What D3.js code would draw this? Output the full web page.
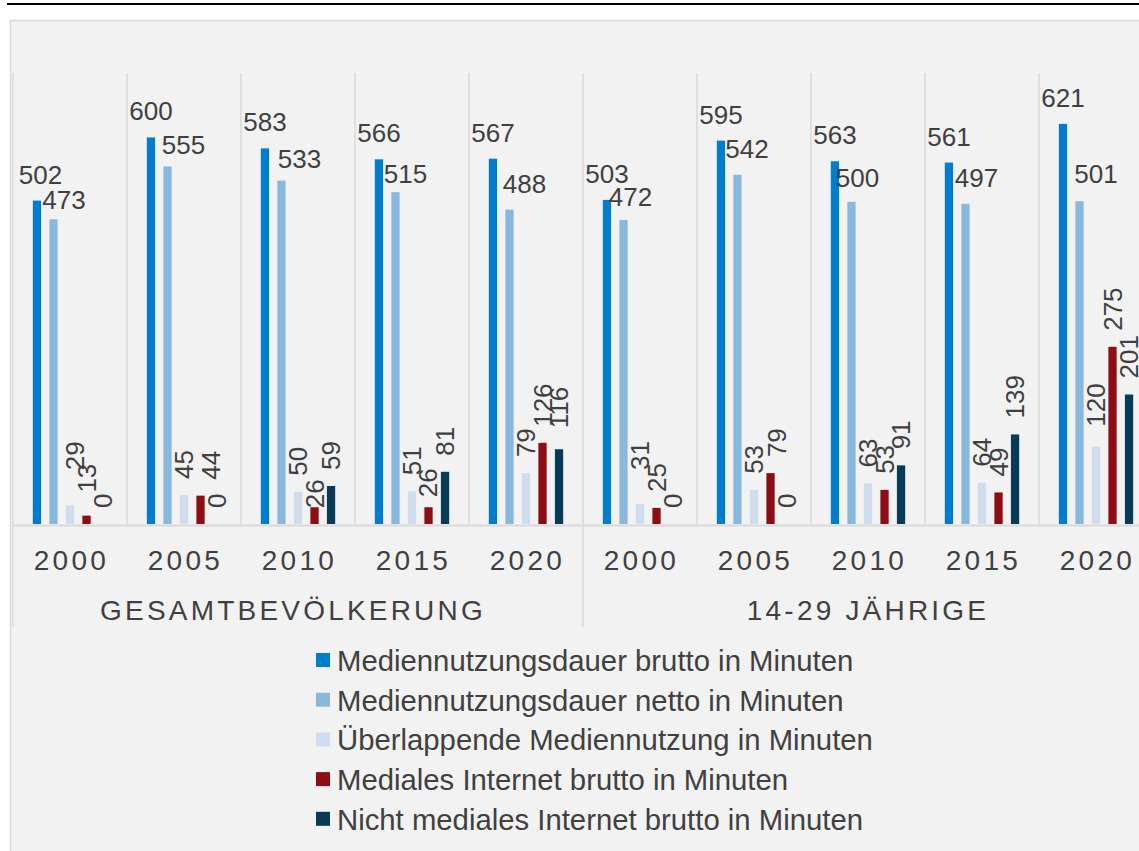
<!DOCTYPE html>
<html>
<head>
<meta charset="utf-8">
<script src="https://cdn.jsdelivr.net/npm/d3@7"></script>
<style>
  html, body { margin: 0; padding: 0; background: #ffffff; }
  svg { display: block; font-family: "Liberation Sans", Arial, sans-serif; }
</style>
</head>
<body>
<svg id="chart" width="1139" height="851"></svg>
<script>
// ---- data ----
const groups = ["GESAMTBEVÖLKERUNG", "14-29 JÄHRIGE"];
const years = ["2000", "2005", "2010", "2015", "2020"];
const seriesNames = [
  "Mediennutzungsdauer brutto in Minuten",
  "Mediennutzungsdauer netto in Minuten",
  "Überlappende Mediennutzung in Minuten",
  "Mediales Internet brutto in Minuten",
  "Nicht mediales Internet brutto in Minuten"
];
const bruttoGesamt      = [502, 600, 583, 566, 567];
const nettoGesamt       = [473, 555, 533, 515, 488];
const ueberlappGesamt   = [29, 45, 50, 51, 79];
const medialGesamt      = [13, 44, 26, 26, 126];
const nichtMedialGesamt = [0, 0, 59, 81, 116];
const bruttoJung        = [503, 595, 563, 561, 621];
const nettoJung         = [472, 542, 500, 497, 501];
const ueberlappJung     = [31, 53, 63, 64, 120];
const medialJung        = [25, 79, 53, 49, 275];
const nichtMedialJung   = [0, 0, 91, 139, 201];
const colors = ["#007DCC", "#88B9DC", "#CFDDEE", "#8C0D14", "#073B57"];

// ---- build table ----
const valuesByGroup = [
  [bruttoGesamt, nettoGesamt, ueberlappGesamt, medialGesamt, nichtMedialGesamt],
  [bruttoJung, nettoJung, ueberlappJung, medialJung, nichtMedialJung]
];
const categories = [];
groups.forEach((g, gi) => years.forEach((y, yi) => {
  categories.push({
    key: gi + "-" + y, group: gi, year: y,
    values: valuesByGroup[gi].map((arr, si) => ({ s: si, v: arr[yi] }))
  });
}));

// label nudges (layout only, not data): key "group-year-series" -> [dx, dy]
const nudges = {
  "0-2000-0": [3.5, 0], "0-2000-1": [10.5, 7], "0-2005-1": [16, 5], "0-2010-1": [18, 4],
  "0-2015-1": [10, 8], "0-2020-1": [15, 0], "1-2000-1": [7, 3], "1-2005-1": [9.5, 0],
  "1-2010-1": [6, 2], "1-2015-1": [11, 0], "1-2020-1": [16.5, -1],
  "0-2000-2": [5, -19], "0-2000-3": [0, -7], "0-2005-3": [10, 0], "0-2010-3": [0, 17],
  "0-2015-3": [-1, 6], "0-2020-4": [0, -5], "1-2000-2": [0, -18], "1-2005-3": [6, 0],
  "1-2020-2": [0, -4]
};
const groupLabelShift = [-5, 0];

// ---- layout ----
const svg = d3.select("#chart");
const textColor = "#404040";
const gridColor = "#D9D9D9";

svg.append("line").attr("x1", 7).attr("x2", 1139).attr("y1", 4).attr("y2", 4)
  .attr("stroke", "#000").attr("stroke-width", 2);
svg.append("rect").attr("x", 10.5).attr("y", 20.5).attr("width", 1140).attr("height", 840)
  .attr("fill", "#F2F2F2").attr("stroke", gridColor).attr("stroke-width", 1.5);

const x0 = d3.scaleBand().domain(categories.map(d => d.key)).range([13, 13 + 114 * 10]).padding(0);
const x1 = d3.scaleBand().domain(d3.range(5)).range([0, x0.bandwidth()])
  .paddingInner(0.5).paddingOuter(1.2);
const y = d3.scaleLinear().domain([0, 700]).range([524, 73]);

// vertical separators
const sepG = svg.append("g");
categories.forEach((c, i) => {
  const xs = x0(c.key);
  const yEnd = (i % 5 === 0) ? 627 : 524;
  sepG.append("line").attr("x1", xs).attr("x2", xs).attr("y1", y(700)).attr("y2", yEnd)
    .attr("stroke", gridColor).attr("stroke-width", 1.5);
});
// axis line
svg.append("line").attr("x1", 13).attr("x2", 1139).attr("y1", y(0) + 1.5).attr("y2", y(0) + 1.5)
  .attr("stroke", gridColor).attr("stroke-width", 2);

// bars
const catG = svg.selectAll("g.cat").data(categories).join("g")
  .attr("class", "cat").attr("transform", d => `translate(${x0(d.key)},0)`);
catG.selectAll("rect").data(d => d.values.filter(v => v.v > 0)).join("rect")
  .attr("x", d => x1(d.s)).attr("width", x1.bandwidth())
  .attr("y", d => y(d.v)).attr("height", d => y(0) - y(d.v))
  .attr("fill", d => colors[d.s]);

// labels
catG.each(function (c) {
  const g = d3.select(this);
  c.values.forEach(d => {
    const nk = nudges[c.group + "-" + c.year + "-" + d.s] || [0, 0];
    const cx = x1(d.s) + x1.bandwidth() / 2 + nk[0];
    const top = y(d.v);
    if (d.s < 2) {
      g.append("text").attr("x", cx).attr("y", top - 17 + nk[1])
        .attr("text-anchor", "middle").attr("font-size", 26).attr("fill", textColor)
        .text(d.v);
    } else {
      g.append("text")
        .attr("transform", `translate(${cx},${top - 16 + nk[1]}) rotate(-90)`)
        .attr("dy", "0.36em").attr("text-anchor", "start")
        .attr("font-size", 26).attr("fill", textColor).text(d.v);
    }
  });
});

// year labels
svg.append("g").selectAll("text").data(categories).join("text")
  .attr("x", d => x0(d.key) + x0.bandwidth() / 2 + 1.5).attr("y", 570)
  .attr("text-anchor", "middle").attr("font-size", 28).attr("letter-spacing", 3.3)
  .attr("fill", textColor).text(d => d.year);

// group labels
svg.append("g").selectAll("text").data(groups).join("text")
  .attr("x", (d, i) => x0(categories[i * 5].key) + x0.bandwidth() * 2.5 + groupLabelShift[i]).attr("y", 620)
  .attr("text-anchor", "middle").attr("font-size", 28).attr("letter-spacing", 3.2)
  .attr("fill", textColor).text(d => d);

// legend
const leg = svg.append("g").selectAll("g").data(seriesNames).join("g")
  .attr("transform", (d, i) => `translate(316,${671 + i * 39.7})`);
leg.append("rect").attr("x", 0).attr("y", -18).attr("width", 14).attr("height", 14)
  .attr("fill", (d, i) => colors[i]);
leg.append("text").attr("x", 21).attr("y", 0).attr("font-size", 29.3)
  .attr("fill", textColor).text(d => d);
</script>
</body>
</html>
